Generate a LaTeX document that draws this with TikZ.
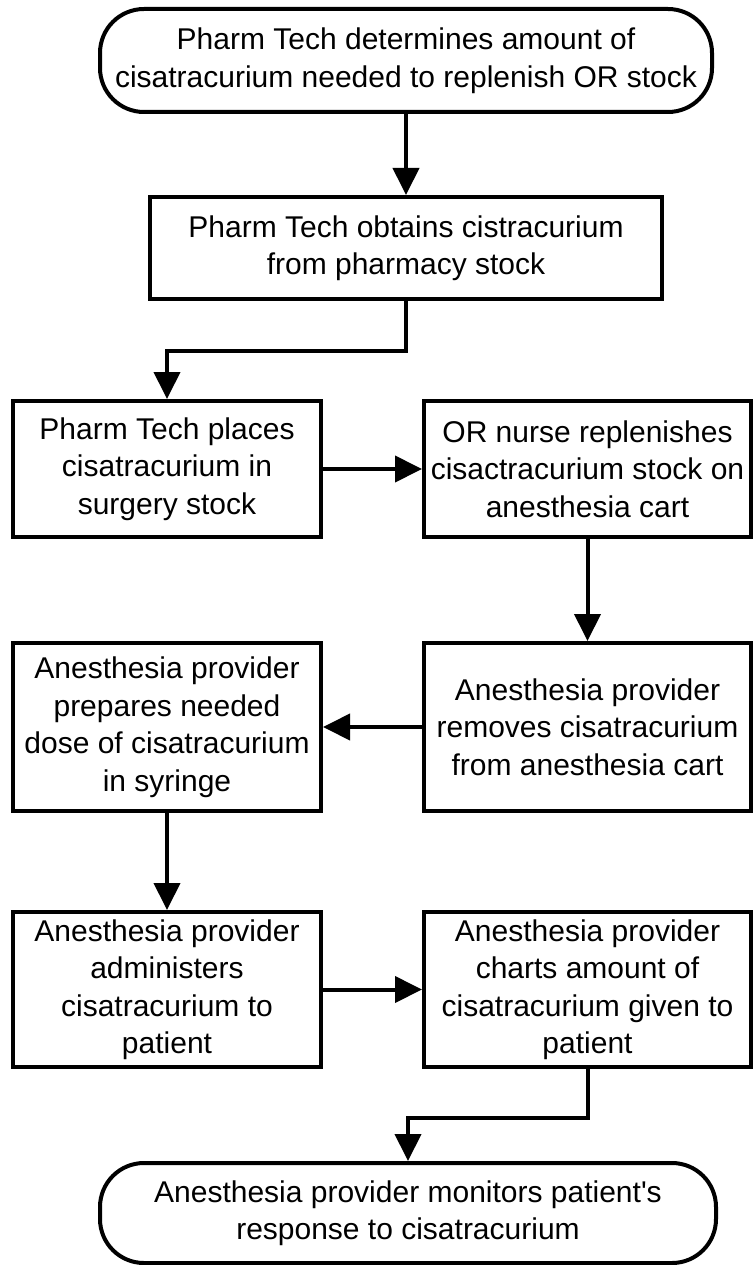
\documentclass[tikz,border=0pt]{standalone}
\usepackage{fontspec}
\setmainfont{Liberation Sans}
\usetikzlibrary{arrows.meta}

\begin{document}
\begin{tikzpicture}[x=1pt,y=-1pt,>={Triangle[length=27pt,width=26pt]},line join=miter,
  every node/.style={font=\fontsize{30}{37.5}\selectfont},
  proc/.style={draw,line width=4pt,align=center,inner sep=0pt},
  term/.style={proc,rounded corners=44pt},
  flow/.style={->,line width=4pt}]
  \useasboundingbox (0,0) rectangle (753,1265);
  \clip (0,0) rectangle (753,1265);
  \node[term,minimum width=612pt,minimum height=103pt] (start) at (406,60.5) {Pharm Tech determines amount of\\cisatracurium needed to replenish OR stock};
  \node[proc,minimum width=512pt,minimum height=102pt] (obtain) at (406,248) {Pharm Tech obtains cistracurium\\from pharmacy stock};
  \node[proc,minimum width=308pt,minimum height=136pt] (place) at (167,469) {Pharm Tech places\\cisatracurium in\\surgery stock};
  \node[proc,minimum width=327pt,minimum height=136pt] (replenish) at (587.5,469) {OR nurse replenishes\\cisactracurium stock on\\anesthesia cart};
  \node[proc,minimum width=327pt,minimum height=168pt] (remove) at (587.5,727) {Anesthesia provider\\removes cisatracurium\\from anesthesia cart};
  \node[proc,minimum width=308pt,minimum height=168pt] (prepare) at (167,727) {Anesthesia provider\\prepares needed\\dose of cisatracurium\\in syringe};
  \node[proc,minimum width=308pt,minimum height=155pt] (administer) at (167,989.5) {Anesthesia provider\\administers\\cisatracurium to\\patient};
  \node[proc,minimum width=327pt,minimum height=155pt] (chart) at (587.5,989.5) {Anesthesia provider\\charts amount of\\cisatracurium given to\\patient};
  \node[term,minimum width=616pt,minimum height=100pt] (stop) at (408,1213) {Anesthesia provider monitors patient\textquotesingle s\\response to cisatracurium};
  \draw[flow] (start) -- (obtain);
  \draw[flow] (obtain.south) -- ++(0,50) -| (place.north);
  \draw[flow] (place) -- (replenish);
  \draw[flow] (replenish) -- (remove);
  \draw[flow] (remove) -- (prepare);
  \draw[flow] (prepare) -- (administer);
  \draw[flow] (administer) -- (chart);
  \draw[flow] (chart.south) -- ++(0,49) -| (stop.north);
\end{tikzpicture}
\end{document}
